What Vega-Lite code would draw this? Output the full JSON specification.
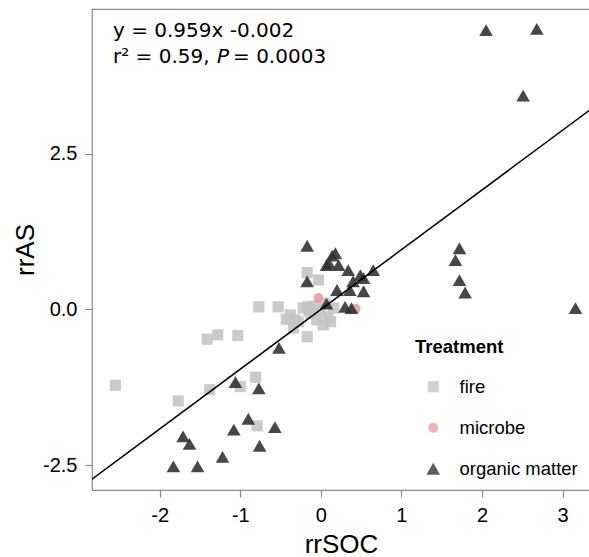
{
  "$schema": "https://vega.github.io/schema/vega-lite/v6.json",
  "width": 498,
  "height": 481,
  "autosize": "none",
  "padding": {"left": 92, "top": 9, "right": 0, "bottom": 67},
  "background": "white",
  "config": {
    "font": "Liberation Sans",
    "view": {"stroke": "#8c8c8c", "strokeWidth": 1.2},
    "axis": {
      "domain": false,
      "grid": false,
      "tickColor": "#8c8c8c",
      "tickWidth": 1.2,
      "tickSize": 7,
      "labelColor": "black",
      "labelFontSize": 20,
      "labelFont": "Liberation Sans",
      "titleFont": "Liberation Sans",
      "titleFontSize": 26,
      "titleFontWeight": "normal",
      "titleColor": "black"
    },
    "legend": {
      "titleFont": "Liberation Sans",
      "labelFont": "Liberation Sans"
    }
  },
  "datasets": {
    "pts": [
      {"rrSOC": -2.55, "rrAS": -1.22, "Treatment": "fire"},
      {"rrSOC": -1.77, "rrAS": -1.47, "Treatment": "fire"},
      {"rrSOC": -1.38, "rrAS": -1.29, "Treatment": "fire"},
      {"rrSOC": -1.0, "rrAS": -1.24, "Treatment": "fire"},
      {"rrSOC": -0.81, "rrAS": -1.09, "Treatment": "fire"},
      {"rrSOC": -0.79, "rrAS": -1.87, "Treatment": "fire"},
      {"rrSOC": -1.41, "rrAS": -0.48, "Treatment": "fire"},
      {"rrSOC": -1.28, "rrAS": -0.41, "Treatment": "fire"},
      {"rrSOC": -1.03, "rrAS": -0.42, "Treatment": "fire"},
      {"rrSOC": -0.77, "rrAS": 0.04, "Treatment": "fire"},
      {"rrSOC": -0.53, "rrAS": 0.04, "Treatment": "fire"},
      {"rrSOC": -0.43, "rrAS": -0.16, "Treatment": "fire"},
      {"rrSOC": -0.34, "rrAS": -0.3, "Treatment": "fire"},
      {"rrSOC": -0.28, "rrAS": -0.2, "Treatment": "fire"},
      {"rrSOC": -0.17, "rrAS": -0.44, "Treatment": "fire"},
      {"rrSOC": -0.17, "rrAS": 0.59, "Treatment": "fire"},
      {"rrSOC": -0.03, "rrAS": 0.47, "Treatment": "fire"},
      {"rrSOC": -0.17, "rrAS": 0.04, "Treatment": "fire"},
      {"rrSOC": -0.15, "rrAS": -0.01, "Treatment": "fire"},
      {"rrSOC": -0.38, "rrAS": -0.09, "Treatment": "fire"},
      {"rrSOC": -0.22, "rrAS": 0.02, "Treatment": "fire"},
      {"rrSOC": -0.13, "rrAS": -0.06, "Treatment": "fire"},
      {"rrSOC": -0.01, "rrAS": -0.01, "Treatment": "fire"},
      {"rrSOC": 0.09, "rrAS": -0.12, "Treatment": "fire"},
      {"rrSOC": -0.05, "rrAS": -0.17, "Treatment": "fire"},
      {"rrSOC": 0.03, "rrAS": -0.25, "Treatment": "fire"},
      {"rrSOC": 0.12, "rrAS": -0.2, "Treatment": "fire"},
      {"rrSOC": -0.32, "rrAS": -0.17, "Treatment": "fire"},
      {"rrSOC": 0.16, "rrAS": 0.02, "Treatment": "fire"},
      {"rrSOC": -0.09, "rrAS": 0.05, "Treatment": "fire"},
      {"rrSOC": 0.05, "rrAS": 0.1, "Treatment": "fire"},
      {"rrSOC": -0.03, "rrAS": 0.18, "Treatment": "microbe"},
      {"rrSOC": 0.43, "rrAS": 0.01, "Treatment": "microbe"},
      {"rrSOC": 2.05, "rrAS": 4.48, "Treatment": "organic matter"},
      {"rrSOC": 2.68, "rrAS": 4.5, "Treatment": "organic matter"},
      {"rrSOC": 2.51, "rrAS": 3.43, "Treatment": "organic matter"},
      {"rrSOC": 1.72, "rrAS": 0.98, "Treatment": "organic matter"},
      {"rrSOC": 1.67, "rrAS": 0.79, "Treatment": "organic matter"},
      {"rrSOC": 1.72, "rrAS": 0.47, "Treatment": "organic matter"},
      {"rrSOC": 1.79, "rrAS": 0.27, "Treatment": "organic matter"},
      {"rrSOC": 3.16, "rrAS": 0.02, "Treatment": "organic matter"},
      {"rrSOC": -0.17, "rrAS": 1.02, "Treatment": "organic matter"},
      {"rrSOC": 0.18, "rrAS": 0.9, "Treatment": "organic matter"},
      {"rrSOC": 0.14, "rrAS": 0.86, "Treatment": "organic matter"},
      {"rrSOC": 0.07, "rrAS": 0.71, "Treatment": "organic matter"},
      {"rrSOC": 0.22, "rrAS": 0.71, "Treatment": "organic matter"},
      {"rrSOC": 0.1, "rrAS": 0.74, "Treatment": "organic matter"},
      {"rrSOC": 0.34, "rrAS": 0.63, "Treatment": "organic matter"},
      {"rrSOC": 0.49, "rrAS": 0.55, "Treatment": "organic matter"},
      {"rrSOC": 0.65, "rrAS": 0.63, "Treatment": "organic matter"},
      {"rrSOC": 0.4, "rrAS": 0.45, "Treatment": "organic matter"},
      {"rrSOC": 0.53, "rrAS": 0.5, "Treatment": "organic matter"},
      {"rrSOC": 0.2, "rrAS": 0.31, "Treatment": "organic matter"},
      {"rrSOC": 0.36, "rrAS": 0.31, "Treatment": "organic matter"},
      {"rrSOC": 0.53, "rrAS": 0.29, "Treatment": "organic matter"},
      {"rrSOC": 0.07, "rrAS": 0.09, "Treatment": "organic matter"},
      {"rrSOC": 0.3, "rrAS": 0.04, "Treatment": "organic matter"},
      {"rrSOC": 0.38, "rrAS": 0.02, "Treatment": "organic matter"},
      {"rrSOC": -0.17, "rrAS": 0.45, "Treatment": "organic matter"},
      {"rrSOC": -0.52, "rrAS": -0.62, "Treatment": "organic matter"},
      {"rrSOC": -1.06, "rrAS": -1.17, "Treatment": "organic matter"},
      {"rrSOC": -0.77, "rrAS": -1.27, "Treatment": "organic matter"},
      {"rrSOC": -0.9, "rrAS": -1.76, "Treatment": "organic matter"},
      {"rrSOC": -1.08, "rrAS": -1.93, "Treatment": "organic matter"},
      {"rrSOC": -0.57, "rrAS": -1.89, "Treatment": "organic matter"},
      {"rrSOC": -1.71, "rrAS": -2.04, "Treatment": "organic matter"},
      {"rrSOC": -1.63, "rrAS": -2.16, "Treatment": "organic matter"},
      {"rrSOC": -0.76, "rrAS": -2.19, "Treatment": "organic matter"},
      {"rrSOC": -1.22, "rrAS": -2.37, "Treatment": "organic matter"},
      {"rrSOC": -1.83, "rrAS": -2.52, "Treatment": "organic matter"},
      {"rrSOC": -1.53, "rrAS": -2.52, "Treatment": "organic matter"}
    ],
    "fit": [
      {"rrSOC": -2.84, "rrAS": -2.726},
      {"rrSOC": 3.34, "rrAS": 3.201}
    ],
    "eq": [
      {"rrSOC": -2.58, "rrAS": 4.374, "label": "y = 0.959x -0.002"},
      {"rrSOC": -2.58, "rrAS": 3.957, "label": "r² = 0.59, "},
      {"rrSOC": -1.09, "rrAS": 3.957, "label": "= 0.0003"}
    ],
    "eqi": [
      {"rrSOC": -1.29, "rrAS": 3.957, "label": "P"}
    ]
  },
  "layer": [
    {
      "data": {"name": "pts"},
      "mark": {"type": "point", "filled": true, "opacity": 0.88, "strokeWidth": 0},
      "encoding": {
        "x": {
          "field": "rrSOC", "type": "quantitative",
          "scale": {"domain": [-2.84, 3.34], "nice": false, "zero": false},
          "axis": {"values": [-2, -1, 0, 1, 2, 3], "labelExpr": "replace(format(datum.value, 'd'), '−', '-')", "title": "rrSOC", "labelPadding": 8, "titlePadding": 6}
        },
        "y": {
          "field": "rrAS", "type": "quantitative",
          "scale": {"domain": [-2.9, 4.82], "nice": false, "zero": false},
          "axis": {"values": [-2.5, 0, 2.5], "labelExpr": "replace(format(datum.value, '.1f'), '−', '-')", "title": "rrAS", "labelPadding": 8, "titlePadding": 4}
        },
        "color": {
          "field": "Treatment", "type": "nominal",
          "scale": {"domain": ["fire", "microbe", "organic matter"], "range": ["#c4c4c4", "#e59c9c", "#2e2e2e"]},
          "legend": {
            "orient": "none", "legendX": 323, "legendY": 329,
            "title": "Treatment", "titleFontSize": 18.5, "titleFontWeight": "bold", "titleColor": "black",
            "titlePadding": 21, "labelFontSize": 18.5, "labelColor": "black",
            "rowPadding": 22, "symbolOffset": 9, "labelOffset": 17,
            "symbolStrokeWidth": 0, "symbolOpacity": 0.88
          }
        },
        "shape": {
          "field": "Treatment", "type": "nominal",
          "scale": {"domain": ["fire", "microbe", "organic matter"], "range": ["square", "circle", "triangle-up"]}
        },
        "size": {
          "field": "Treatment", "type": "nominal",
          "scale": {"type": "ordinal", "domain": ["fire", "microbe", "organic matter"], "range": [125, 100, 185]}
        }
      }
    },
    {
      "data": {"name": "fit"},
      "mark": {"type": "line", "color": "black", "strokeWidth": 1.5, "clip": true},
      "encoding": {
        "x": {"field": "rrSOC", "type": "quantitative"},
        "y": {"field": "rrAS", "type": "quantitative"}
      }
    },
    {
      "data": {"name": "eq"},
      "mark": {"type": "text", "align": "left", "baseline": "alphabetic", "font": "DejaVu Sans", "fontSize": 20, "color": "black"},
      "encoding": {
        "x": {"field": "rrSOC", "type": "quantitative"},
        "y": {"field": "rrAS", "type": "quantitative"},
        "text": {"field": "label"}
      }
    },
    {
      "data": {"name": "eqi"},
      "mark": {"type": "text", "align": "left", "baseline": "alphabetic", "font": "DejaVu Sans", "fontSize": 20, "fontStyle": "italic", "color": "black"},
      "encoding": {
        "x": {"field": "rrSOC", "type": "quantitative"},
        "y": {"field": "rrAS", "type": "quantitative"},
        "text": {"field": "label"}
      }
    }
  ]
}
